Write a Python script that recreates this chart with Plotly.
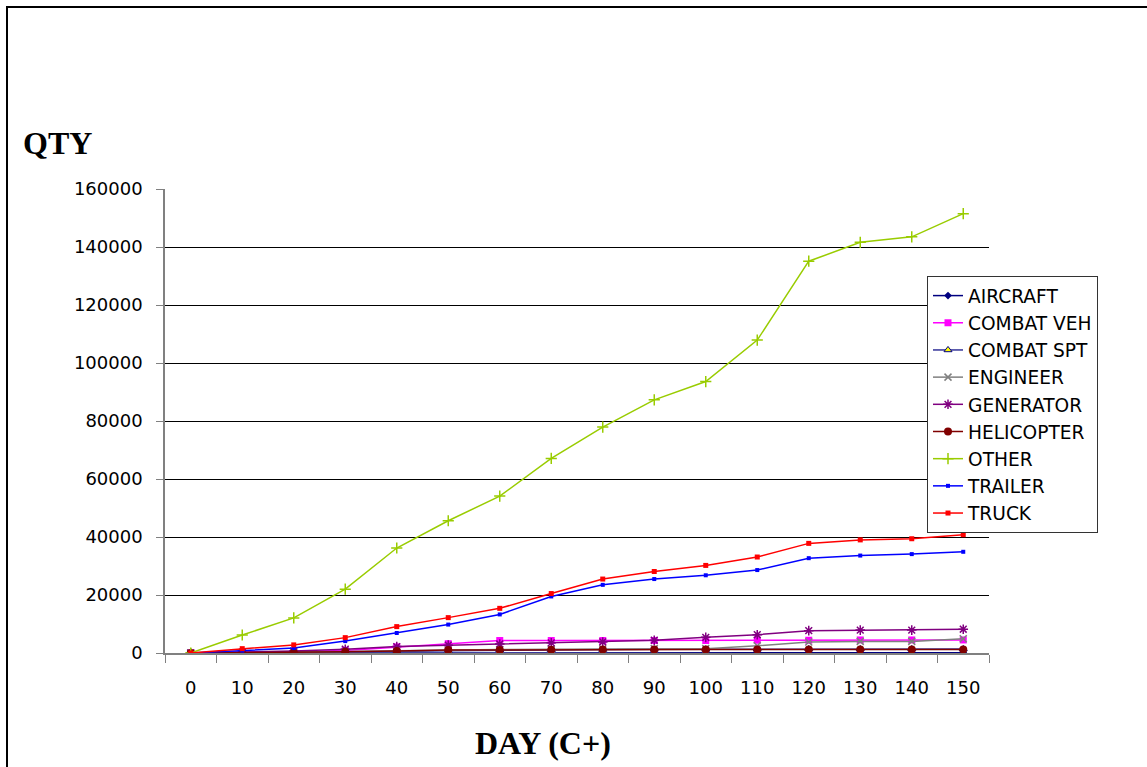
import plotly.graph_objects as go

days = ["0", "10", "20", "30", "40", "50", "60", "70", "80", "90", "100", "110", "120", "130", "140", "150"]

aircraft = [0, 0, 0, 50, 100, 100, 100, 100, 100, 100, 100, 100, 100, 100, 100, 100]
combat_veh = [0, 200, 400, 900, 2100, 3200, 4300, 4300, 4300, 4300, 4300, 4400, 4400, 4500, 4500, 4500]
combat_spt = [0, 100, 200, 300, 500, 800, 1000, 1100, 1200, 1300, 1300, 1300, 1400, 1400, 1400, 1400]
engineer = [0, 100, 300, 500, 800, 1100, 1200, 1300, 1400, 1500, 1500, 2500, 3800, 4000, 4000, 4900]
generator = [0, 300, 700, 1300, 2200, 2700, 3100, 3500, 3800, 4400, 5400, 6300, 7700, 7900, 7900, 8200]
helicopter = [0, 100, 200, 400, 700, 1000, 1000, 1100, 1200, 1200, 1200, 1200, 1200, 1200, 1200, 1200]
other = [0, 6200, 12100, 22000, 36200, 45600, 54100, 67100, 77900, 87300, 93600, 107900, 135100, 141600, 143500, 151500]
trailer = [0, 800, 1700, 4100, 6900, 9800, 13300, 19500, 23500, 25500, 26800, 28600, 32700, 33600, 34100, 34900]
truck = [0, 1500, 2800, 5300, 9100, 12200, 15400, 20500, 25500, 28100, 30200, 33100, 37800, 39000, 39400, 40800]

y_ticks = [0, 20000, 40000, 60000, 80000, 100000, 120000, 140000, 160000]

series = [
    ("AIRCRAFT", aircraft, "#000080", dict(symbol="diamond", size=6, color="#000080")),
    ("COMBAT VEH", combat_veh, "#FF00FF", dict(symbol="square", size=7, color="#FF00FF")),
    ("COMBAT SPT", combat_spt, "#333399", dict(symbol="triangle-up", size=7, color="#FFFF00",
                                               line=dict(color="#000080", width=1))),
    ("ENGINEER", engineer, "#808080", dict(symbol="x-thin-open", size=7, color="#808080",
                                           line=dict(color="#808080", width=1.5))),
    ("GENERATOR", generator, "#800080", dict(symbol="asterisk-open", size=8, color="#800080",
                                             line=dict(color="#800080", width=1.5))),
    ("HELICOPTER", helicopter, "#800000", dict(symbol="circle", size=8, color="#800000")),
    ("OTHER", other, "#99CC00", dict(symbol="cross-thin-open", size=8, color="#99CC00",
                                     line=dict(color="#99CC00", width=1.5))),
    ("TRAILER", trailer, "#0000FF", dict(symbol="square", size=4, color="#0000FF")),
    ("TRUCK", truck, "#FF0000", dict(symbol="square", size=5, color="#FF0000")),
]

fig = go.Figure()
for name, vals, col, mk in series:
    fig.add_trace(go.Scatter(x=days, y=vals, name=name, mode="lines+markers",
                             line=dict(color=col, width=1.5), marker=mk))

W, H = 1147, 767
L, R, T, B = 165, 158, 189, 114
pw, ph = W - L - R, H - T - B

def px_x(p):
    return (p - L) / pw

def px_y(p):
    return (H - B - p) / ph

fig.update_layout(
    width=W, height=H,
    margin=dict(l=L, r=R, t=T, b=B, autoexpand=False),
    paper_bgcolor="white", plot_bgcolor="white",
    font=dict(family="DejaVu Sans", size=18, color="black"),
    showlegend=True,
    legend=dict(
        x=px_x(927), y=px_y(276), xanchor="left", yanchor="top",
        bgcolor="white", bordercolor="#333333", borderwidth=1,
        font=dict(family="DejaVu Sans", size=18.6, color="black"),
        itemwidth=30, tracegroupgap=0,
    ),
    xaxis=dict(
        type="category", tickson="boundaries", ticks="outside", ticklen=8,
        range=[-0.5, len(days) - 0.5],
        tickcolor="#808080", showline=True, linecolor="#808080", linewidth=1.5,
        showgrid=False, ticklabelstandoff=18, tickfont=dict(size=18),
    ),
    yaxis=dict(
        range=[0, 160000], tickvals=y_ticks, ticktext=[str(v) for v in y_ticks],
        ticks="outside", ticklen=7, tickcolor="#808080",
        showline=True, linecolor="#808080", linewidth=1.5,
        showgrid=True, gridcolor="#000000", gridwidth=1,
        zeroline=False, ticklabelstandoff=10, tickfont=dict(size=18),
    ),
    annotations=[
        dict(text="<b>QTY</b>", xref="paper", yref="paper", x=px_x(21), y=px_y(143),
             xanchor="left", yanchor="middle", showarrow=False,
             font=dict(family="Liberation Serif", size=32, color="black")),
        dict(text="<b>DAY (C+)</b>", xref="paper", yref="paper", x=px_x(543), y=px_y(743),
             xanchor="center", yanchor="middle", showarrow=False,
             font=dict(family="Liberation Serif", size=32, color="black")),
    ],
    shapes=[
        dict(type="rect", xref="paper", yref="paper",
             x0=px_x(7), x1=px_x(1170), y0=px_y(7), y1=px_y(790),
             line=dict(color="black", width=2), fillcolor="rgba(0,0,0,0)", layer="below"),
    ],
)

fig.write_html("out.html")
